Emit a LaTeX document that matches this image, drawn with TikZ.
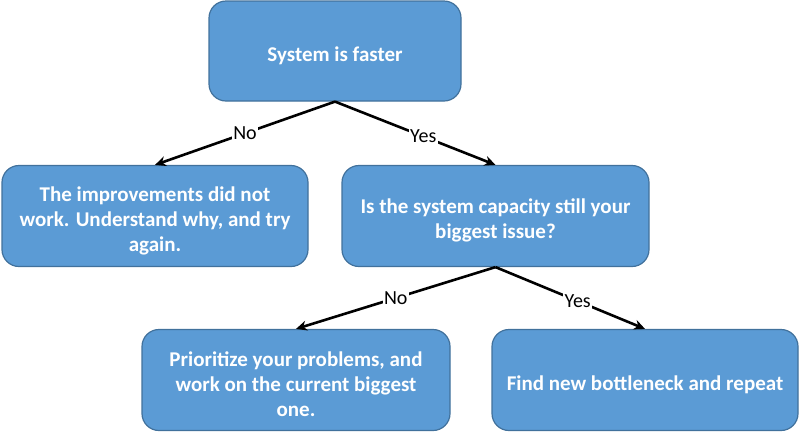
\documentclass[tikz,border=0pt]{standalone}
\usepackage{fontspec}
\setmainfont{Carlito}
\usetikzlibrary{arrows.meta}
\definecolor{boxfill}{HTML}{5B9BD5}
\definecolor{boxline}{HTML}{41719C}
\newcommand\bst{\rule{0pt}{24pt}}
\tikzset{
  box/.style={draw=boxline, line width=1.2pt, fill=boxfill, rounded corners=17pt,
    text=white, font=\fontsize{21}{25}\selectfont\bfseries, align=center,
    inner sep=0pt},
  conn/.style={line width=2.6pt, -{Stealth[length=11pt,width=10pt]}},
  lab/.style={fill=white, inner sep=1.5pt, font=\fontsize{20}{22}\selectfont, text=black}
}
\begin{document}
\begin{tikzpicture}[x=1pt,y=-1pt]
\useasboundingbox (0,0) rectangle (800,432);
\node[box, minimum width=252pt, minimum height=100pt] (b1) at (335,51) {\bst System is faster};
\node[box, minimum width=306pt, minimum height=101pt] (b2) at (155,216) {\bst The improvements did not\\work. Understand why, and try\\again.};
\node[box, minimum width=307pt, minimum height=101pt] (b3) at (495.5,216) {\bst Is the system capacity still your\\biggest issue?};
\node[box, minimum width=308pt, minimum height=101pt] (b4) at (296,380) {\bst Prioritize your problems, and\\work on the current biggest\\one.};
\node[box, minimum width=306pt, minimum height=101pt] (b5) at (645,380) {\bst Find new bottleneck and repeat};
\draw[conn] (b1.south) -- node[lab, pos=0.5] {No} (b2.north);
\draw[conn] (b1.south) -- node[lab, pos=0.55] {Yes} (b3.north);
\draw[conn] (b3.south) -- node[lab, pos=0.5] {No} (b4.north);
\draw[conn] (b3.south) -- node[lab, pos=0.55] {Yes} (b5.north);
\end{tikzpicture}
\end{document}
